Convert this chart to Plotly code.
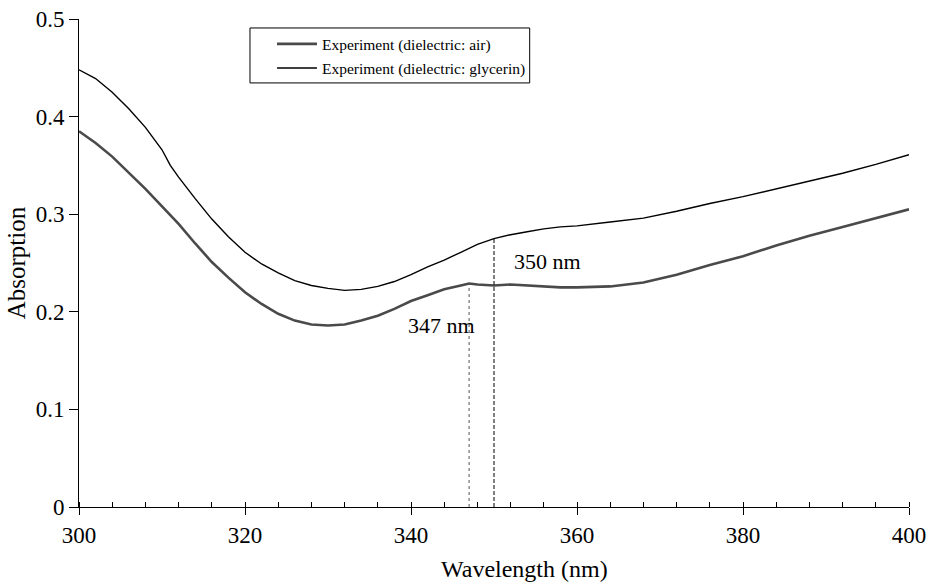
import plotly.graph_objects as go

wl_gly = [300, 302, 304, 306, 308, 310, 311, 312, 314, 316, 318, 320, 322, 324, 326, 328, 330, 332, 334, 336,
          338, 340, 342, 344, 346, 348, 350, 352, 354, 356, 358, 360, 364, 368, 372, 376, 380, 384, 388, 392, 396, 400]
abs_gly = [0.448, 0.439, 0.425, 0.408, 0.389, 0.366, 0.350, 0.338, 0.316, 0.295, 0.277, 0.261, 0.249, 0.240, 0.232,
           0.227, 0.224, 0.222, 0.223, 0.226, 0.231, 0.238, 0.246, 0.253, 0.261, 0.269, 0.275, 0.279, 0.282, 0.285,
           0.287, 0.288, 0.292, 0.296, 0.303, 0.311, 0.318, 0.326, 0.334, 0.342, 0.351, 0.361]

wl_air = [300, 302, 304, 306, 308, 310, 312, 314, 316, 318, 320, 322, 324, 326, 328, 330, 332, 334, 336, 338, 340,
          342, 344, 346, 347, 348, 350, 352, 354, 356, 358, 360, 364, 368, 372, 376, 380, 384, 388, 392, 396, 400]
abs_air = [0.385, 0.373, 0.359, 0.343, 0.326, 0.308, 0.290, 0.270, 0.251, 0.235, 0.220, 0.208, 0.198, 0.191, 0.187,
           0.186, 0.187, 0.191, 0.196, 0.203, 0.211, 0.217, 0.223, 0.227, 0.229, 0.228, 0.227, 0.228, 0.227, 0.226,
           0.225, 0.225, 0.226, 0.230, 0.238, 0.248, 0.257, 0.268, 0.278, 0.287, 0.296, 0.305]

peak_air_wl = 347
peak_air_val = 0.229
peak_gly_wl = 350
peak_gly_val = 0.276

x_ticks = [300, 320, 340, 360, 380, 400]
y_ticks = [0, 0.1, 0.2, 0.3, 0.4, 0.5]
y_tick_text = ["0", "0.1", "0.2", "0.3", "0.4", "0.5"]

FONT = "Liberation Serif, Times New Roman, serif"

fig = go.Figure()
fig.add_trace(go.Scatter(x=wl_air, y=abs_air, mode="lines", name="Experiment (dielectric: air)",
                         legendgroup="a", line=dict(color="#4a4a4a", width=2.6)))
fig.add_trace(go.Scatter(x=wl_gly, y=abs_gly, mode="lines", name="Experiment (dielectric: glycerin)",
                         legendgroup="g", line=dict(color="#000000", width=1.4)))
fig.add_trace(go.Scatter(x=[peak_air_wl, peak_air_wl], y=[0, peak_air_val], mode="lines", showlegend=False,
                         line=dict(color="#555555", width=1, dash="dot")))
fig.add_trace(go.Scatter(x=[peak_gly_wl, peak_gly_wl], y=[0, peak_gly_val], mode="lines", showlegend=False,
                         line=dict(color="#000000", width=1, dash="4px,2px")))

fig.add_annotation(x=peak_gly_wl + 2.2, y=0.252, text="350 nm", showarrow=False, xanchor="left",
                   font=dict(family=FONT, size=22, color="black"))
fig.add_annotation(x=peak_air_wl + 0.9, y=0.186, text="347 nm", showarrow=False, xanchor="right",
                   font=dict(family=FONT, size=22, color="black"))
# x-axis title (slightly right of centre as in the original)
fig.add_annotation(xref="paper", yref="paper", x=0.537, y=-0.158, text="Wavelength (nm)", showarrow=False,
                   xanchor="center", yanchor="bottom", font=dict(family=FONT, size=24, color="black"))

# legend frame
fig.add_shape(type="rect", xref="paper", yref="paper", x0=0.206, x1=0.543, y0=0.869, y1=0.9816,
              line=dict(color="black", width=1), fillcolor="rgba(0,0,0,0)", layer="above")

fig.update_layout(
    width=939, height=586,
    margin=dict(l=79, r=30, t=19, b=79, autoexpand=False),
    paper_bgcolor="white", plot_bgcolor="white",
    font=dict(family=FONT, size=20, color="black"),
    legend=dict(x=0.2325, y=0.983, xanchor="left", yanchor="top", borderwidth=0,
                bgcolor="rgba(0,0,0,0)", font=dict(family=FONT, size=15.5), itemwidth=40,
                tracegroupgap=1),
    showlegend=True,
)
fig.update_xaxes(range=[300, 400], tickvals=x_ticks, ticks="outside", ticklen=7, tickcolor="black",
                 showline=True, linecolor="black", linewidth=1, showgrid=False, zeroline=False,
                 automargin=False,
                 minor=dict(ticks="inside", dtick=4, tick0=300, ticklen=5, tickcolor="black"),
                 tickfont=dict(family=FONT, size=23))
fig.update_yaxes(range=[0, 0.5], tickvals=y_ticks, ticktext=y_tick_text,
                 ticks="outside", ticklen=9, tickcolor="black",
                 showline=True, linecolor="black", linewidth=1, showgrid=False, zeroline=False,
                 automargin=False,
                 title=dict(text="Absorption", standoff=2, font=dict(family=FONT, size=25)),
                 tickfont=dict(family=FONT, size=23))

fig.write_html("out.html", post_script="document.body.style.margin='0';",
               config={"displayModeBar": False})
